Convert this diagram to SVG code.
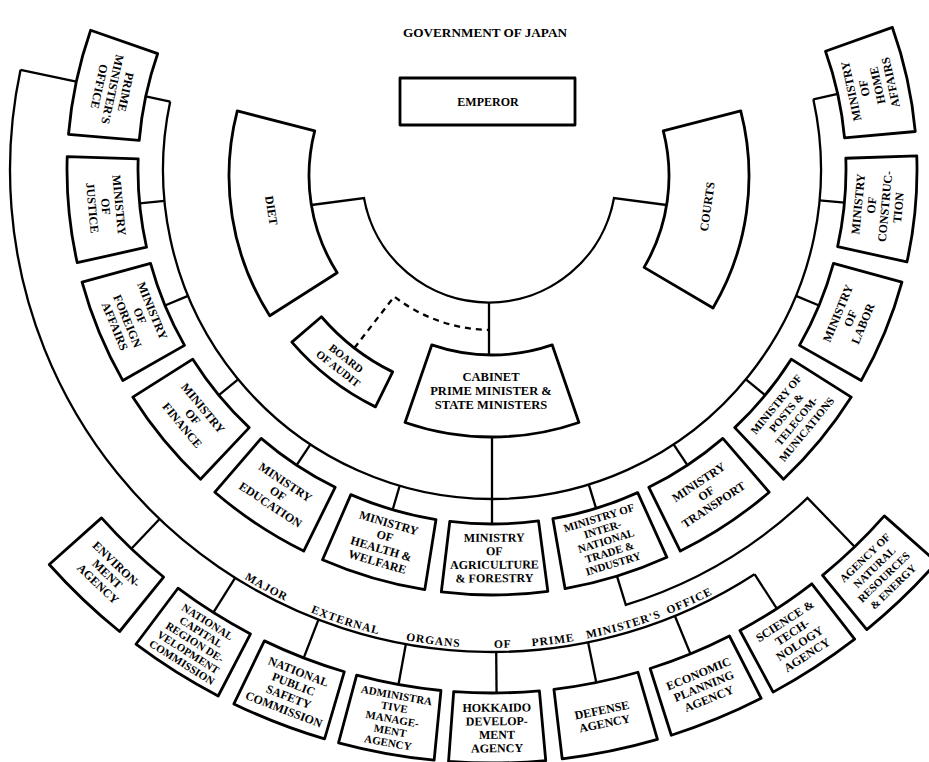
<svg xmlns="http://www.w3.org/2000/svg" width="929" height="762" viewBox="0 0 929 762">
<style>
.bx{fill:#fff;stroke:#000;stroke-width:2.8;stroke-linejoin:round}
.cn{fill:none;stroke:#000;stroke-width:2.3}
.ds{fill:none;stroke:#000;stroke-width:2.3;stroke-dasharray:6 5}
text{font-family:"Liberation Serif","Times New Roman",serif;font-weight:bold;font-size:12px;text-anchor:middle;fill:#000}
.s{font-size:11px}
.b{font-size:12.5px}
.lbl{font-size:11.5px;letter-spacing:1px;text-anchor:middle}
</style>
<defs>
<path id="ms" d="M447.63,521.21 A354,354 0 0 0 536.37,521.21 L545.27,591.65 A425,425 0 0 1 438.73,591.65 Z"/>
<path id="es" d="M449.15,691.24 A523,523 0 0 0 534.85,691.24 L540.59,761.01 A593,593 0 0 1 443.41,761.01 Z"/>
<line id="mc" x1="492" y1="499" x2="492" y2="524"/>
<line id="ec" x1="492" y1="652" x2="492" y2="693"/>
<path id="arcLabel" d="M217.83,561.55 A478,478 0 0 0 766.17,561.55"/>
</defs>
<rect width="929" height="762" fill="#fff"/>
<text x="485" y="37" font-size="10.5" textLength="164" lengthAdjust="spacingAndGlyphs">GOVERNMENT OF JAPAN</text>

<g id="connectors">
<path class="cn" d="M311.4,205 L364,198 A127,127 0 0 0 614,198 L666.6,205"/>
<line class="cn" x1="489" y1="303" x2="489" y2="355"/>
<line class="cn" x1="492" y1="437" x2="492" y2="524"/>
<path class="ds" d="M354.4,348 L394.2,296.6 A160,160 0 0 0 489,330"/>
<path class="cn" d="M170.19,101.6 A329,329 0 1 0 813.32,99.35"/>
<path class="cn" d="M20.53,69.79 A482,482 0 0 0 754.52,574.24"/>
<path class="cn" d="M616.97,576.21 L625.79,604.88 A455,455 0 0 0 807.5,497.85 L855.34,547.57"/>
<use class="cn" href="#mc" transform="rotate(102 492 170)"/>
<use class="cn" href="#mc" transform="rotate(84.6 492 170)"/>
<use class="cn" href="#mc" transform="rotate(67.5 492 170)"/>
<use class="cn" href="#mc" transform="rotate(50.5 492 170)"/>
<use class="cn" href="#mc" transform="rotate(33.5 492 170)"/>
<use class="cn" href="#mc" transform="rotate(16.3 492 170)"/>
<use class="cn" href="#mc" transform="rotate(-17.1 492 170)"/>
<use class="cn" href="#mc" transform="rotate(-33.5 492 170)"/>
<use class="cn" href="#mc" transform="rotate(-50.5 492 170)"/>
<use class="cn" href="#mc" transform="rotate(-67.5 492 170)"/>
<use class="cn" href="#mc" transform="rotate(-84.7 492 170)"/>
<use class="cn" href="#mc" transform="rotate(-102.4 492 170)"/>
<line class="cn" x1="492" y1="595" x2="492" y2="652" transform="rotate(102 492 170)"/>
<use class="cn" href="#ec" transform="rotate(43.6 492 170)"/>
<use class="cn" href="#ec" transform="rotate(32.2 492 170)"/>
<use class="cn" href="#ec" transform="rotate(21.1 492 170)"/>
<use class="cn" href="#ec" transform="rotate(10.3 492 170)"/>
<use class="cn" href="#ec" transform="rotate(-0.5 492 170)"/>
<use class="cn" href="#ec" transform="rotate(-11.5 492 170)"/>
<use class="cn" href="#ec" transform="rotate(-22.3 492 170)"/>
<use class="cn" href="#ec" transform="rotate(-33 492 170)"/>
<text class="lbl"><textPath href="#arcLabel" startOffset="55.1">MAJOR</textPath></text>
<text class="lbl"><textPath href="#arcLabel" startOffset="141.8">EXTERNAL</textPath></text>
<text class="lbl"><textPath href="#arcLabel" startOffset="232.8">ORGANS</textPath></text>
<text class="lbl"><textPath href="#arcLabel" startOffset="302.8">OF</textPath></text>
<text class="lbl"><textPath href="#arcLabel" startOffset="353.7">PRIME</textPath></text>
<text class="lbl"><textPath href="#arcLabel" startOffset="426.3">MINISTER'S</textPath></text>
<text class="lbl"><textPath href="#arcLabel" startOffset="497.2">OFFICE</textPath></text>
</g>

<g id="emperor">
<rect class="bx" x="400" y="78" width="175" height="47"/>
<text x="488" y="106" font-size="11.5">EMPEROR</text>
</g>
<g id="diet">
<path class="bx" d="M237.28,110.9 L314.73,130.93 A180,180 0 0 0 337.19,272.71 L269.72,315.7 A260,260 0 0 1 237.28,110.9 Z"/>
<text x="271.7" y="214.8" font-size="13" transform="rotate(81 271.7 210.4)">DIET</text>
</g>
<g id="courts">
<path class="bx" d="M663.27,130.93 L740.72,110.9 A260,260 0 0 1 713.02,307.96 L644.09,267.36 A180,180 0 0 0 663.27,130.93 Z"/>
<text x="706.9" y="211" font-size="13" transform="rotate(-82 706.9 206.6)">COURTS</text>
</g>
<g id="cabinet">
<path class="bx" d="M431.77,344.92 A185,185 0 0 0 552.23,344.92 L578.93,422.45 A267,267 0 0 1 405.07,422.45 Z"/>
<text x="491" y="381" class="b"><tspan x="491">CABINET</tspan><tspan x="491" dy="14">PRIME MINISTER &amp;</tspan><tspan x="491" dy="14">STATE MINISTERS</tspan></text>
</g>
<g id="board-of-audit" transform="rotate(37.75 492 170)">
<path class="bx" d="M446.95,390.44 A225,225 0 0 0 537.05,390.44 L544.86,428.65 A264,264 0 0 1 439.14,428.65 Z"/>
<text x="492" y="412" class="s"><tspan x="492">BOARD</tspan><tspan x="492" dy="13">OF AUDIT</tspan></text>
</g>

<g id="pm-office" transform="rotate(102 492 170)">
<use class="bx" href="#ms"/>
<text x="492" y="548.5"><tspan x="492">PRIME</tspan><tspan x="492" dy="13.5">MINISTER'S</tspan><tspan x="492" dy="13.5">OFFICE</tspan></text>
</g>
<g id="justice" transform="rotate(84.6 492 170)">
<use class="bx" href="#ms"/>
<text x="492" y="548.5"><tspan x="492">MINISTRY</tspan><tspan x="492" dy="13.5">OF</tspan><tspan x="492" dy="13.5">JUSTICE</tspan></text>
</g>
<g id="foreign-affairs" transform="rotate(67.5 492 170)">
<use class="bx" href="#ms"/>
<text x="492" y="541.75"><tspan x="492">MINISTRY</tspan><tspan x="492" dy="13.5">OF</tspan><tspan x="492" dy="13.5">FOREIGN</tspan><tspan x="492" dy="13.5">AFFAIRS</tspan></text>
</g>
<g id="finance" transform="rotate(50.5 492 170)">
<use class="bx" href="#ms"/>
<text x="492" y="548.5"><tspan x="492">MINISTRY</tspan><tspan x="492" dy="13.5">OF</tspan><tspan x="492" dy="13.5">FINANCE</tspan></text>
</g>
<g id="education" transform="rotate(33.5 492 170)">
<use class="bx" href="#ms"/>
<text x="492" y="548.5"><tspan x="492">MINISTRY</tspan><tspan x="492" dy="13.5">OF</tspan><tspan x="492" dy="13.5">EDUCATION</tspan></text>
</g>
<g id="health-welfare" transform="rotate(16.3 492 170)">
<use class="bx" href="#ms"/>
<text x="492" y="541.75"><tspan x="492">MINISTRY</tspan><tspan x="492" dy="13.5">OF</tspan><tspan x="492" dy="13.5">HEALTH &amp;</tspan><tspan x="492" dy="13.5">WELFARE</tspan></text>
</g>
<g id="agriculture-forestry" transform="rotate(-0.35 492 170)">
<use class="bx" href="#ms"/>
<text x="492" y="541.75"><tspan x="492">MINISTRY</tspan><tspan x="492" dy="13.5">OF</tspan><tspan x="492" dy="13.5">AGRICULTURE</tspan><tspan x="492" dy="13.5">&amp; FORESTRY</tspan></text>
</g>
<g id="intl-trade-industry" transform="rotate(-17.1 492 170)">
<use class="bx" href="#ms"/>
<text x="492" y="537.7" class="s"><tspan x="492">MINISTRY OF</tspan><tspan x="492" dy="12">INTER-</tspan><tspan x="492" dy="12">NATIONAL</tspan><tspan x="492" dy="12">TRADE &amp;</tspan><tspan x="492" dy="12">INDUSTRY</tspan></text>
</g>
<g id="transport" transform="rotate(-33.5 492 170)">
<use class="bx" href="#ms"/>
<text x="492" y="548.5"><tspan x="492">MINISTRY</tspan><tspan x="492" dy="13.5">OF</tspan><tspan x="492" dy="13.5">TRANSPORT</tspan></text>
</g>
<g id="posts-telecom" transform="rotate(-50.5 492 170)">
<use class="bx" href="#ms"/>
<text x="492" y="542" class="s"><tspan x="492">MINISTRY OF</tspan><tspan x="492" dy="13.2">POSTS &amp;</tspan><tspan x="492" dy="13.2">TELECOM-</tspan><tspan x="492" dy="13.2">MUNICATIONS</tspan></text>
</g>
<g id="labor" transform="rotate(-67.5 492 170)">
<use class="bx" href="#ms"/>
<text x="492" y="548.5"><tspan x="492">MINISTRY</tspan><tspan x="492" dy="13.5">OF</tspan><tspan x="492" dy="13.5">LABOR</tspan></text>
</g>
<g id="construction" transform="rotate(-84.7 492 170)">
<use class="bx" href="#ms"/>
<text x="492" y="541.75"><tspan x="492">MINISTRY</tspan><tspan x="492" dy="13.5">OF</tspan><tspan x="492" dy="13.5">CONSTRUC-</tspan><tspan x="492" dy="13.5">TION</tspan></text>
</g>
<g id="home-affairs" transform="rotate(-102.4 492 170)">
<use class="bx" href="#ms"/>
<text x="492" y="541.75"><tspan x="492">MINISTRY</tspan><tspan x="492" dy="13.5">OF</tspan><tspan x="492" dy="13.5">HOME</tspan><tspan x="492" dy="13.5">AFFAIRS</tspan></text>
</g>

<g id="environment-agency" transform="rotate(43.6 492 170)">
<use class="bx" href="#es"/>
<text x="492" y="718.5"><tspan x="492">ENVIRON-</tspan><tspan x="492" dy="13.5">MENT</tspan><tspan x="492" dy="13.5">AGENCY</tspan></text>
</g>
<g id="national-capital-region" transform="rotate(32.2 492 170)">
<use class="bx" href="#es"/>
<text x="492" y="707.7" class="s"><tspan x="492">NATIONAL</tspan><tspan x="492" dy="12">CAPITAL</tspan><tspan x="492" dy="12">REGION DE-</tspan><tspan x="492" dy="12">VELOPMENT</tspan><tspan x="492" dy="12">COMMISSION</tspan></text>
</g>
<g id="public-safety" transform="rotate(21.1 492 170)">
<use class="bx" href="#es"/>
<text x="492" y="711.75"><tspan x="492">NATIONAL</tspan><tspan x="492" dy="13.5">PUBLIC</tspan><tspan x="492" dy="13.5">SAFETY</tspan><tspan x="492" dy="13.5">COMMISSION</tspan></text>
</g>
<g id="administrative-management" transform="rotate(10.3 492 170)">
<use class="bx" href="#es"/>
<text x="492" y="707.7" class="s"><tspan x="492">ADMINISTRA</tspan><tspan x="492" dy="12">TIVE</tspan><tspan x="492" dy="12">MANAGE-</tspan><tspan x="492" dy="12">MENT</tspan><tspan x="492" dy="12">AGENCY</tspan></text>
</g>
<g id="hokkaido-development" transform="rotate(-0.5 492 170)">
<use class="bx" href="#es"/>
<text x="492" y="711.75"><tspan x="492">HOKKAIDO</tspan><tspan x="492" dy="13.5">DEVELOP-</tspan><tspan x="492" dy="13.5">MENT</tspan><tspan x="492" dy="13.5">AGENCY</tspan></text>
</g>
<g id="defense-agency" transform="rotate(-11.5 492 170)">
<use class="bx" href="#es"/>
<text x="492" y="725.25"><tspan x="492">DEFENSE</tspan><tspan x="492" dy="13.5">AGENCY</tspan></text>
</g>
<g id="economic-planning" transform="rotate(-22.3 492 170)">
<use class="bx" href="#es"/>
<text x="492" y="718.5"><tspan x="492">ECONOMIC</tspan><tspan x="492" dy="13.5">PLANNING</tspan><tspan x="492" dy="13.5">AGENCY</tspan></text>
</g>
<g id="science-technology" transform="rotate(-33 492 170)">
<use class="bx" href="#es"/>
<text x="492" y="711.75"><tspan x="492">SCIENCE &amp;</tspan><tspan x="492" dy="13.5">TECH-</tspan><tspan x="492" dy="13.5">NOLOGY</tspan><tspan x="492" dy="13.5">AGENCY</tspan></text>
</g>
<g id="natural-resources-energy" transform="rotate(-43.9 492 170)">
<use class="bx" href="#es"/>
<text x="492" y="711.75" class="s"><tspan x="492">AGENCY OF</tspan><tspan x="492" dy="13.5">NATURAL</tspan><tspan x="492" dy="13.5">RESOURCES</tspan><tspan x="492" dy="13.5">&amp; ENERGY</tspan></text>
</g>
</svg>
